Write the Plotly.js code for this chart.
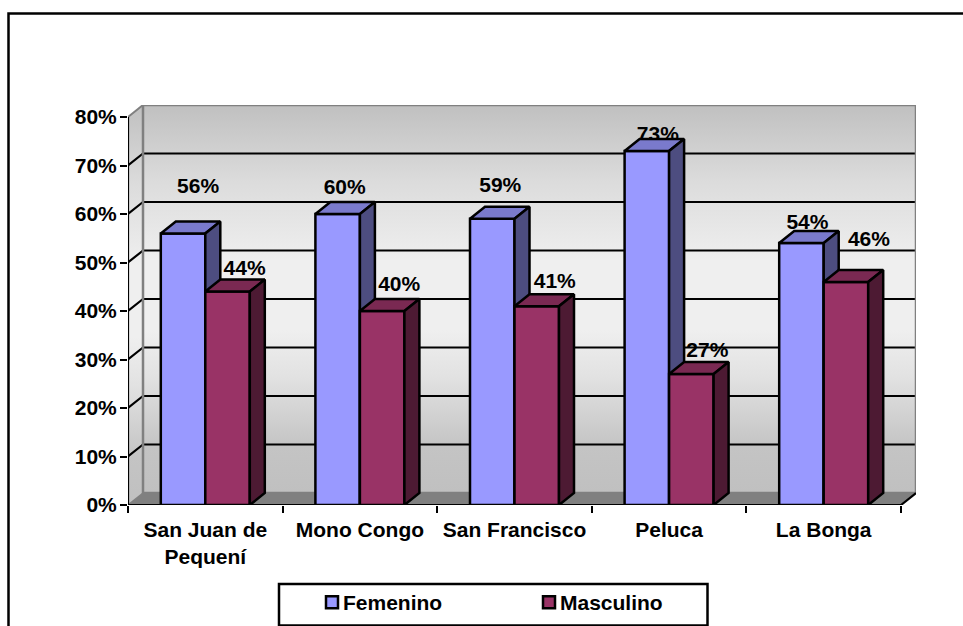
<!DOCTYPE html>
<html>
<head>
<meta charset="utf-8">
<script src="https://cdn.plot.ly/plotly-3.0.1.min.js"></script>
<style>html,body{margin:0;padding:0;background:#fff;overflow:hidden}#chart{width:963px;height:626px}</style>
</head>
<body>
<div id="chart"></div>
<script>
const categories = ["San Juan de<br>Pequení", "Mono Congo", "San Francisco", "Peluca", "La Bonga"];
const femenino = [56, 60, 59, 73, 54];
const masculino = [44, 40, 41, 27, 46];
const yTicks = [0, 10, 20, 30, 40, 50, 60, 70, 80];

// label nudges relative to the bar's top centre, in pixels
const femLabelDx = [15, 7, 8, 11, 6];
const femLabelDy = [46, 25, 32, 15, 19];
const mascLabelDx = [17, 17, 18, 16, 23];
const mascLabelDy = [22, 25, 23, 22, 41];

// plot geometry
const W = 963, H = 626, L = 128, R = 47, T = 105, B = 121;
const catPx = 154.6, tenPx = 48.5;
const xMax = (W - L - R) / catPx, yMax = (H - T - B) / tenPx * 10;
const dx = 15 / catPx, dy = 12 / tenPx * 10;
const barW = 44.5 / catPx;
const pxX = p => p / catPx, pxY = p => p / tenPx * 10;
const mids = categories.map((_, i) => i + 0.5);
const paperX = p => (p - L) / (W - L - R), paperY = p => (H - B - p) / (H - T - B);

const font = {family: '"Liberation Sans", Arial, sans-serif', size: 21, color: '#000', weight: 'bold'};
const wallScale = [[0, '#c0c0c0'], [0.12, '#c4c4c4'], [0.3, '#e2e2e2'], [0.42, '#efefef'], [0.6, '#efefef'], [0.8, '#dcdcdc'], [1, '#c0c0c0']];
const edge = 2.5;

function poly(xs, ys, extra) {
  return Object.assign({type: 'scatter', mode: 'lines', x: xs, y: ys, fill: 'toself', showlegend: false,
    hoverinfo: 'skip', cliponaxis: false}, extra);
}
function seg(xs, ys, color, width) {
  return {type: 'scatter', mode: 'lines', x: xs, y: ys, showlegend: false, hoverinfo: 'skip', cliponaxis: false,
    line: {color: color, width: width}};
}

const traces = [];
// walls and floor (base subplot)
traces.push(poly([dx, xMax, xMax, dx, dx], [dy, dy, yMax, yMax, dy],
  {line: {width: 0}, fillgradient: {type: 'vertical', colorscale: wallScale}}));
traces.push(poly([0, dx, dx, 0, 0], [0, dy, yMax, 80, 0],
  {line: {width: 0}, fillgradient: {type: 'vertical', colorscale: wallScale}}));
traces.push(poly([0, dx, xMax, 5, 0], [0, dy, dy, 0, 0], {line: {width: 0}, fillcolor: '#808080'}));

// gridlines on back wall and their diagonals on the side wall
const gx = [], gy = [];
yTicks.filter(v => v > 0 && v < 80).forEach(v => {
  gx.push(0, dx, xMax, null); gy.push(v, v + dy, v + dy, null);
});
traces.push(seg(gx, gy, '#000', 2.2));
traces.push(seg([xMax, xMax, dx, dx, xMax], [dy, yMax, yMax, dy, dy], '#808080', 2.5));
traces.push(seg([0, dx], [80, yMax], '#808080', 2));
traces.push(seg([0, dx], [0, dy], '#808080', 1.5));

// axis lines
traces.push(seg([0, 0], [0, 80], '#000', 2.2));
traces.push(seg([0, 5, xMax], [0, 0, dy], '#000', 2.2));

// data labels sit beneath the bars
const lx = [], ly = [], lt = [];
femenino.forEach((v, i) => {
  lx.push(mids[i] - barW / 2 + pxX(femLabelDx[i])); ly.push(v + pxY(femLabelDy[i])); lt.push(v + '%');
});
masculino.forEach((v, i) => {
  lx.push(mids[i] + barW / 2 + pxX(mascLabelDx[i])); ly.push(v + pxY(mascLabelDy[i])); lt.push(v + '%');
});
traces.push({type: 'scatter', mode: 'text', x: lx, y: ly, text: lt, textposition: 'middle center',
  textfont: font, showlegend: false, hoverinfo: 'skip', cliponaxis: false});

function series(name, values, sign, front, top, side, ax) {
  const centers = mids.map(m => m + sign * barW / 2);
  traces.push({type: 'bar', name: name, x: centers, y: values, width: barW, xaxis: 'x' + ax, yaxis: 'y' + ax,
    marker: {color: front, line: {color: '#000', width: edge}}, hoverinfo: 'y'});
  const tx = [], ty = [], sx = [], sy = [];
  values.forEach((v, i) => {
    const a = centers[i] - barW / 2, b = centers[i] + barW / 2;
    tx.push(a, a + dx, b + dx, b, a, null); ty.push(v, v + dy, v + dy, v, v, null);
    sx.push(b, b + dx, b + dx, b, b, null); sy.push(0, dy, v + dy, v, 0, null);
  });
  traces.push(poly(tx, ty, {xaxis: 'x' + ax, yaxis: 'y' + ax, fillcolor: top, line: {color: '#000', width: edge}}));
  traces.push(poly(sx, sy, {xaxis: 'x' + ax, yaxis: 'y' + ax, fillcolor: side, line: {color: '#000', width: edge}}));
}
series('Femenino', femenino, -1, '#9999ff', '#7a7acc', '#4d4d80', 2);
series('Masculino', masculino, 1, '#993366', '#7a2952', '#4d1a33', 3);

const hidden = (over) => ({overlaying: over, range: over === 'x' ? [0, xMax] : [0, yMax], visible: false, fixedrange: true});

const layout = {
  width: W, height: H,
  margin: {l: L, r: R, t: T, b: B, pad: 0},
  paper_bgcolor: '#fff', plot_bgcolor: 'rgba(0,0,0,0)',
  barmode: 'overlay',
  font: font,
  xaxis: {
    range: [0, xMax], fixedrange: true, showgrid: false, zeroline: false, showline: false,
    tickmode: 'array', tickvals: mids, ticktext: categories, ticks: '', tickfont: font, ticklabelstandoff: 10,
    minor: {ticks: 'outside', ticklen: 7, tickwidth: 2, tickcolor: '#000', tickmode: 'linear', tick0: 0, dtick: 1, showgrid: false}
  },
  yaxis: {
    range: [0, yMax], fixedrange: true, showgrid: false, zeroline: false, showline: false,
    tickmode: 'array', tickvals: yTicks, ticktext: yTicks.map(v => v + '%'),
    ticks: 'outside', ticklen: 7, tickwidth: 2, tickcolor: '#000', tickfont: font, ticklabelstandoff: -1
  },
  xaxis2: hidden('x'), yaxis2: hidden('y'), xaxis3: hidden('x'), yaxis3: hidden('y'),
  showlegend: true,
  legend: {
    orientation: 'h', xref: 'container', yref: 'container',
    x: 318 / W, xanchor: 'left', y: (H - 582) / H, yanchor: 'top',
    font: font, bgcolor: 'rgba(0,0,0,0)', borderwidth: 0, entrywidth: 187, entrywidthmode: 'pixels',
    indentation: -15, traceorder: 'normal', itemclick: false, itemdoubleclick: false
  },
  shapes: [
    {type: 'rect', xref: 'paper', yref: 'paper', x0: paperX(8.5), x1: paperX(975), y0: paperY(13.5), y1: paperY(650),
      line: {color: '#000', width: 2.5}, fillcolor: 'rgba(0,0,0,0)', layer: 'above'},
    {type: 'rect', xref: 'paper', yref: 'paper', x0: paperX(279), x1: paperX(707.5), y0: paperY(584), y1: paperY(625.5),
      line: {color: '#000', width: 2.5}, fillcolor: 'rgba(0,0,0,0)', layer: 'above'}
  ]
};
Plotly.newPlot('chart', traces, layout, {displayModeBar: false}).then(gd => {
  // pull the legend swatches next to their text, as in the reference
  gd.querySelectorAll('.legend .legendsymbols').forEach(s => s.setAttribute('transform', 'translate(9,0)'));
});
</script>
</body>
</html>
